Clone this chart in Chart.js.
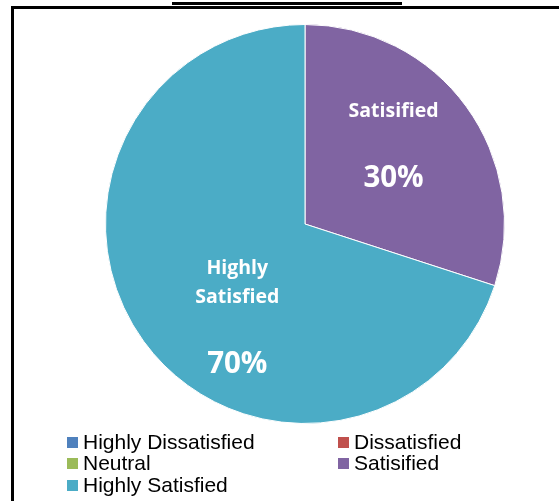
<!DOCTYPE html>
<html>
<head>
<meta charset="utf-8">
<script src="https://cdn.jsdelivr.net/npm/chart.js@4"></script>
<style>
  html, body { margin: 0; padding: 0; background: #fff; }
  #wrap { width: 559px; height: 501px; position: relative; }
</style>
</head>
<body>
<div id="wrap"><canvas id="c" width="559" height="501"></canvas></div>
<script>
const categories = ["Highly Dissatisfied", "Dissatisfied", "Neutral", "Satisified", "Highly Satisfied"];
const values = [0, 0, 0, 30, 70];
const colors = ["#4F81BD", "#C0504D", "#9BBB59", "#8064A2", "#4BACC6"];
const sliceLabels = [null, null, null, ["Satisified"], ["Highly", "Satisfied"]];
const percentLabels = ["0%", "0%", "0%", "30%", "70%"];

// Frame decoration (border + top rule)
const framePlugin = {
  id: 'frame',
  beforeDraw(chart) {
    const ctx = chart.ctx;
    ctx.save();
    ctx.fillStyle = '#fff';
    ctx.fillRect(0, 0, chart.width, chart.height);
    ctx.fillStyle = '#000';
    ctx.fillRect(172, 2, 230, 3);
    ctx.fillRect(11, 6, chart.width - 11, 3);
    ctx.fillRect(11, 6, 3, chart.height - 6);
    ctx.restore();
  }
};

// Data labels inside slices
const labelPlugin = {
  id: 'sliceLabels',
  afterDatasetsDraw(chart) {
    const ctx = chart.ctx;
    const meta = chart.getDatasetMeta(0);
    const tweak = { 3: { da: -6.3, f: 0.60, dy: 1.5 }, 4: { da: -16.3, f: 0.555, dy: 4.5 } };
    ctx.save();
    ctx.fillStyle = '#fff';
    ctx.textAlign = 'center';
    ctx.textBaseline = 'middle';
    meta.data.forEach((arc, i) => {
      if (!values[i]) return;
      const p = arc.getProps(['x', 'y', 'startAngle', 'endAngle', 'outerRadius'], true);
      const t = tweak[i] || { da: 0, f: 0.6, dy: 0 };
      const mid = (p.startAngle + p.endAngle) / 2 + t.da * Math.PI / 180;
      const cx = p.x + Math.cos(mid) * p.outerRadius * t.f;
      const cy = p.y + Math.sin(mid) * p.outerRadius * t.f + t.dy;
      const name = sliceLabels[i] || [categories[i]];
      const lineH = 29;
      const gap = 67;
      const blockH = (name.length - 1) * lineH + gap;
      let y0 = cy - blockH / 2;
      ctx.font = 'bold 19.5px "Open Sans"';
      name.forEach((ln, k) => ctx.fillText(ln, cx, y0 + k * lineH));
      ctx.font = 'bold 29.5px "Open Sans"';
      ctx.fillText(percentLabels[i], cx, y0 + (name.length - 1) * lineH + gap);
    });
    ctx.restore();
  }
};

// Grid legend (2 columns, as in the original)
const legendPlugin = {
  id: 'gridLegend',
  afterDraw(chart) {
    const ctx = chart.ctx;
    ctx.save();
    ctx.font = '21px "Liberation Sans", Arial, sans-serif';
    ctx.textBaseline = 'middle';
    ctx.textAlign = 'left';
    const colX = [67, 338];
    const rowY = [442.5, 463.5, 485.5];
    categories.forEach((lab, i) => {
      const c = i % 2, r = Math.floor(i / 2);
      const x = colX[c], y = rowY[r];
      ctx.fillStyle = colors[i];
      ctx.fillRect(x, y - 5.5, 11, 11);
      ctx.fillStyle = '#000';
      ctx.fillText(lab, x + 16, y + 1);
    });
    ctx.restore();
  }
};

new Chart(document.getElementById('c'), {
  type: 'pie',
  data: {
    labels: categories,
    datasets: [{
      data: values,
      backgroundColor: colors,
      borderColor: '#fff',
      borderWidth: 1
    }]
  },
  options: {
    responsive: false,
    animation: false,
    layout: { padding: { left: 105, right: 54, top: 24, bottom: 77 } },
    plugins: { legend: { display: false }, tooltip: { enabled: false } }
  },
  plugins: [framePlugin, labelPlugin, legendPlugin]
});
</script>
</body>
</html>
